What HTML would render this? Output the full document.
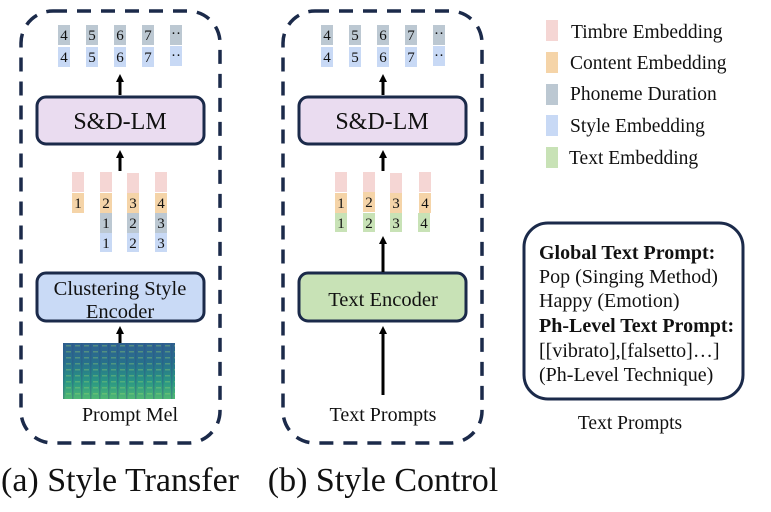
<!DOCTYPE html>
<html><head><meta charset="utf-8"><style>body{margin:0;background:#fff}svg{display:block}text{font-family:"Liberation Serif",serif;fill:#111}</style></head><body>
<svg width="771" height="512" viewBox="0 0 771 512" xmlns="http://www.w3.org/2000/svg">
<defs>
<marker id="a" markerWidth="8" markerHeight="8" refX="4" refY="4" orient="auto" markerUnits="userSpaceOnUse"><path d="M0,0 L8,4 L0,8 z" fill="#000"/></marker>
<linearGradient id="mel" x1="0" y1="0" x2="0" y2="1"><stop offset="0" stop-color="#2f6190"/><stop offset="0.35" stop-color="#27708c"/><stop offset="0.7" stop-color="#2a9784"/><stop offset="1" stop-color="#4fb874"/></linearGradient>
<pattern id="st" width="9" height="6" patternUnits="userSpaceOnUse"><rect x="0" y="0" width="1.5" height="6" fill="#2c4e84" opacity="0.35"/><rect x="3" y="3" width="5" height="1.5" fill="#9ad86a" opacity="0.35"/></pattern>
</defs>
<rect x="21" y="11" width="199" height="432" rx="32" fill="none" stroke="#1b2a4a" stroke-width="3.5" stroke-dasharray="14,10"/>
<rect x="283" y="11" width="199" height="432" rx="32" fill="none" stroke="#1b2a4a" stroke-width="3.5" stroke-dasharray="14,10"/>
<g font-size="15" text-anchor="middle">
<g>
<rect x="58" y="25" width="12" height="20" fill="#bcc8d2"/><rect x="58" y="47" width="12" height="20" fill="#c8d9f5"/>
<rect x="86" y="25" width="12" height="20" fill="#bcc8d2"/><rect x="86" y="47" width="12" height="20" fill="#c8d9f5"/>
<rect x="114" y="25" width="12" height="20" fill="#bcc8d2"/><rect x="114" y="47" width="12" height="20" fill="#c8d9f5"/>
<rect x="142" y="25" width="12" height="20" fill="#bcc8d2"/><rect x="142" y="47" width="12" height="20" fill="#c8d9f5"/>
<rect x="170" y="25" width="12" height="20" fill="#bcc8d2"/><rect x="170" y="46" width="12" height="20" fill="#c8d9f5"/>
<text x="64" y="40">4</text><text x="64" y="62">4</text><text x="92" y="40">5</text><text x="92" y="62">5</text><text x="120" y="40">6</text><text x="120" y="62">6</text><text x="148" y="40">7</text><text x="148" y="62">7</text><text x="176" y="38">··</text><text x="176" y="60">··</text>
</g>
<g transform="translate(263,0)">
<rect x="58" y="25" width="12" height="20" fill="#bcc8d2"/><rect x="58" y="47" width="12" height="20" fill="#c8d9f5"/>
<rect x="86" y="25" width="12" height="20" fill="#bcc8d2"/><rect x="86" y="47" width="12" height="20" fill="#c8d9f5"/>
<rect x="114" y="25" width="12" height="20" fill="#bcc8d2"/><rect x="114" y="47" width="12" height="20" fill="#c8d9f5"/>
<rect x="142" y="25" width="12" height="20" fill="#bcc8d2"/><rect x="142" y="47" width="12" height="20" fill="#c8d9f5"/>
<rect x="170" y="25" width="12" height="20" fill="#bcc8d2"/><rect x="170" y="46" width="12" height="20" fill="#c8d9f5"/>
<text x="64" y="40">4</text><text x="64" y="62">4</text><text x="92" y="40">5</text><text x="92" y="62">5</text><text x="120" y="40">6</text><text x="120" y="62">6</text><text x="148" y="40">7</text><text x="148" y="62">7</text><text x="176" y="38">··</text><text x="176" y="60">··</text>
</g>
<rect x="72" y="172" width="12" height="20" fill="#f5d6d4"/><rect x="72" y="193" width="12" height="20" fill="#f5d4a8"/>
<text x="78" y="208">1</text>
<rect x="100" y="172" width="12" height="20" fill="#f5d6d4"/><rect x="100" y="193" width="12" height="20" fill="#f5d4a8"/><rect x="100" y="213" width="12" height="20" fill="#bcc8d2"/><rect x="100" y="233" width="12" height="19" fill="#c8d9f5"/>
<text x="106" y="208">2</text><text x="106" y="228">1</text><text x="106" y="248">1</text>
<rect x="127" y="173" width="12" height="20" fill="#f5d6d4"/><rect x="127" y="193" width="12" height="20" fill="#f5d4a8"/><rect x="127" y="213" width="12" height="20" fill="#bcc8d2"/><rect x="127" y="233" width="12" height="19" fill="#c8d9f5"/>
<text x="133" y="208">3</text><text x="133" y="228">2</text><text x="133" y="248">2</text>
<rect x="155" y="172" width="12" height="20" fill="#f5d6d4"/><rect x="155" y="193" width="12" height="20" fill="#f5d4a8"/><rect x="155" y="213" width="12" height="20" fill="#bcc8d2"/><rect x="155" y="233" width="12" height="19" fill="#c8d9f5"/>
<text x="161" y="208">4</text><text x="161" y="228">3</text><text x="161" y="248">3</text>
<rect x="335" y="172" width="12" height="20" fill="#f5d6d4"/><rect x="335" y="193" width="12" height="20" fill="#f5d4a8"/><rect x="335" y="213" width="12" height="19" fill="#c8e2b6"/>
<rect x="363" y="172" width="12" height="20" fill="#f5d6d4"/><rect x="363" y="192" width="12" height="20" fill="#f5d4a8"/><rect x="363" y="213" width="12" height="19" fill="#c8e2b6"/>
<rect x="390" y="173" width="12" height="20" fill="#f5d6d4"/><rect x="390" y="193" width="12" height="20" fill="#f5d4a8"/><rect x="390" y="213" width="12" height="19" fill="#c8e2b6"/>
<rect x="419" y="172" width="12" height="20" fill="#f5d6d4"/><rect x="419" y="193" width="12" height="20" fill="#f5d4a8"/><rect x="418" y="213" width="12" height="19" fill="#c8e2b6"/>
<text x="341" y="208">1</text><text x="341" y="228">1</text><text x="369" y="207">2</text><text x="369" y="228">2</text><text x="396" y="208">3</text><text x="396" y="228">3</text><text x="425" y="208">4</text><text x="424" y="228">4</text>
</g>
<rect x="37" y="97" width="167" height="47" rx="9" fill="#eadcf0" stroke="#1b2a4a" stroke-width="3"/>
<text x="120" y="129" font-size="24" text-anchor="middle">S&amp;D-LM</text>
<rect x="299" y="97" width="167" height="47" rx="9" fill="#eadcf0" stroke="#1b2a4a" stroke-width="3"/>
<text x="382" y="129" font-size="24" text-anchor="middle">S&amp;D-LM</text>
<rect x="37" y="273" width="167" height="48" rx="9" fill="#c9daf6" stroke="#1b2a4a" stroke-width="3"/>
<text x="120" y="295" font-size="20.5" text-anchor="middle">Clustering Style</text>
<text x="120" y="318" font-size="20.5" text-anchor="middle">Encoder</text>
<rect x="299" y="273" width="167" height="48" rx="9" fill="#c8e2b6" stroke="#1b2a4a" stroke-width="3"/>
<text x="383" y="306" font-size="20.5" text-anchor="middle">Text Encoder</text>
<g stroke="#000" stroke-width="3" marker-end="url(#a)">
<line x1="120" y1="95" x2="120" y2="78"/>
<line x1="383" y1="95" x2="383" y2="78"/>
<line x1="120" y1="171" x2="120" y2="154"/>
<line x1="383" y1="171" x2="383" y2="154"/>
<line x1="120" y1="343" x2="120" y2="330"/>
<line x1="383" y1="272" x2="383" y2="240"/>
<line x1="383" y1="395" x2="383" y2="330"/>
</g>
<rect x="63" y="343" width="112" height="56" fill="url(#mel)"/>
<rect x="63" y="343" width="112" height="56" fill="url(#st)"/>
<text x="130" y="421" font-size="20" text-anchor="middle">Prompt Mel</text>
<text x="383" y="421" font-size="20" text-anchor="middle">Text Prompts</text>
<text x="120" y="491" font-size="34" text-anchor="middle">(a) Style Transfer</text>
<text x="383" y="491" font-size="34" text-anchor="middle">(b) Style Control</text>
<rect x="546" y="20" width="12" height="21" fill="#f5d6d4"/>
<rect x="546" y="52" width="12" height="21" fill="#f5d4a8"/>
<rect x="546" y="84" width="12" height="21" fill="#bcc8d2"/>
<rect x="546" y="115" width="12" height="21" fill="#c8d9f5"/>
<rect x="546" y="147" width="12" height="21" fill="#c8e2b6"/>
<g font-size="19.5">
<text x="571" y="38">Timbre Embedding</text>
<text x="570" y="69">Content Embedding</text>
<text x="570" y="100">Phoneme Duration</text>
<text x="570" y="132">Style Embedding</text>
<text x="569" y="164">Text Embedding</text>
</g>
<rect x="524" y="223" width="219" height="176" rx="24" fill="none" stroke="#1b2a4a" stroke-width="3"/>
<g font-size="20">
<text x="539" y="259" font-weight="bold">Global Text Prompt:</text>
<text x="539" y="283">Pop (Singing Method)</text>
<text x="539" y="307">Happy (Emotion)</text>
<text x="539" y="332" font-weight="bold">Ph-Level Text Prompt:</text>
<text x="539" y="357">[[vibrato],[falsetto]…]</text>
<text x="539" y="381">(Ph-Level Technique)</text>
</g>
<text x="630" y="429" font-size="19.5" text-anchor="middle">Text Prompts</text>
</svg>
</body></html>
